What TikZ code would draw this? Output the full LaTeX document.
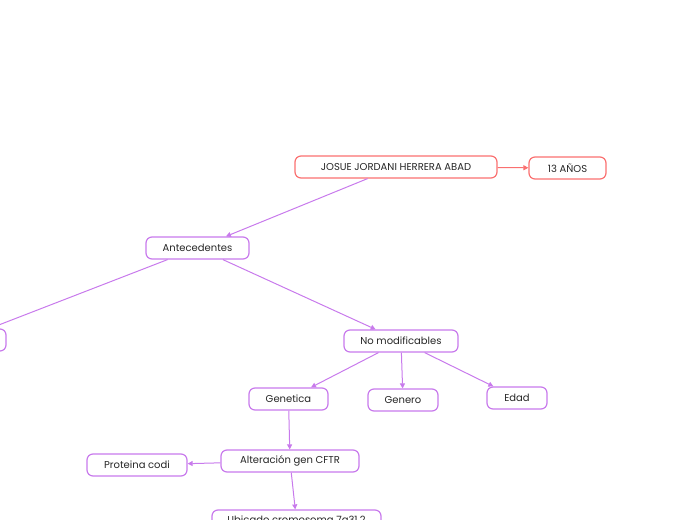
\documentclass[tikz,border=0pt]{standalone}
\usepackage{fontspec}
\setmainfont{Poppins}
\usetikzlibrary{arrows.meta,positioning}
\definecolor{lila}{RGB}{200,122,236}
\definecolor{rosa}{RGB}{250,112,112}
\tikzset{topic/.style={draw=lila,line width=1.2pt,rounded corners=6pt,minimum height=22pt,inner sep=0pt,font=\fontsize{10}{12}\selectfont,text=black!85},
root/.style={topic,draw=rosa},
link/.style={-{Triangle[length=5pt,width=5pt]},line width=1pt,draw=lila}}

\begin{document}
\begin{tikzpicture}[x=1pt,y=-1pt]
\useasboundingbox (0,0) rectangle (697,520);
\clip (0,0) rectangle (697,520);
\node[root,minimum width=202pt] (nombre) at (396,167) {JOSUE JORDANI HERRERA ABAD};
\node[root,minimum width=77pt] (edad13) at (567.5,168) {13 AÑOS};
\node[topic,minimum width=103pt] (antec) at (197.5,248) {Antecedentes};
\node[topic,minimum width=92pt] (modif) at (-40,340) {};
\node[topic,minimum width=114pt] (nomod) at (401,341) {No modificables};
\node[topic,minimum width=79pt] (genet) at (288.5,399) {Genetica};
\node[topic,minimum width=70pt] (gener) at (403,400) {Genero};
\node[topic,minimum width=60pt] (edad) at (517,398) {Edad};
\node[topic,minimum width=138pt] (cftr) at (290,461) {Alteración gen CFTR};
\node[topic,minimum width=100pt] (prot) at (137,465) {Proteina codi};
\node[topic,minimum width=169pt] (crom) at (296.5,521) {Ubicado cromosoma 7q31.2};
% conexiones
\draw[link,draw=rosa] (nombre) -- (edad13);
\draw[link] (nombre) -- (antec);
\draw[link] (antec) -- (modif);
\draw[link] (antec) -- (nomod);
\foreach \h in {genet,gener,edad}{\draw[link] (nomod) -- (\h);}
\draw[link] (genet) -- (cftr);
\draw[link] (cftr) -- (prot);
\draw[link] (cftr) -- (crom);
\end{tikzpicture}
\end{document}
